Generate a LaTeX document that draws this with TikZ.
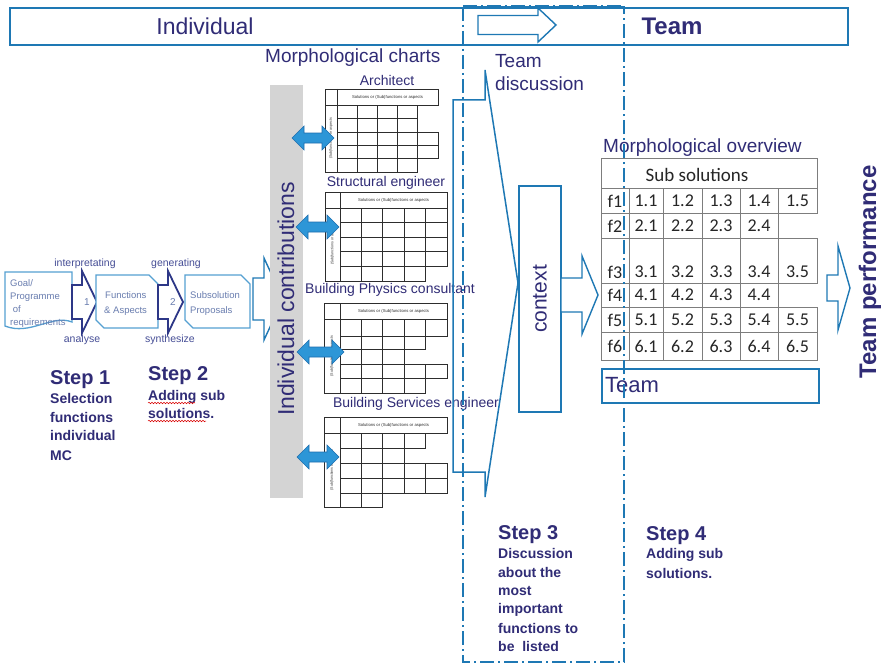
\documentclass[tikz,border=0pt]{standalone}
\usepackage{fontspec}
\setmainfont{Liberation Sans}
\newfontfamily\tablefont{Carlito}
\usetikzlibrary{decorations.pathmorphing}

\definecolor{frameblue}{RGB}{30,120,180}
\definecolor{inkblue}{RGB}{48,44,118}
\definecolor{labelblue}{RGB}{70,78,150}
\definecolor{procblue}{RGB}{85,160,210}
\definecolor{proctext}{RGB}{105,125,175}
\definecolor{arrowink}{RGB}{45,55,135}
\definecolor{dblfill}{RGB}{45,150,215}
\definecolor{dbledge}{RGB}{30,110,175}
\definecolor{barfill}{RGB}{212,212,212}
\definecolor{chartink}{RGB}{45,45,45}
\definecolor{cellline}{RGB}{125,125,125}

\newcommand\fsz[1]{\fontsize{#1}{#1}\selectfont}

% outlined block arrow pointing right:
% #1 style, #2 tail x, #3 head base x, #4 tip x, #5 centre y, #6 half shaft, #7 half head
\newcommand\blockarrow[7]{%
  \draw[#1] ({#2},{#5-#6}) -- ({#3},{#5-#6}) -- ({#3},{#5-#7}) -- ({#4},{#5})
    -- ({#3},{#5+#7}) -- ({#3},{#5+#6}) -- ({#2},{#5+#6}) -- cycle;}

% filled two-way arrow: #1 left x, #2 right x, #3 centre y
\newcommand\twowayarrow[3]{%
  \draw[twoway] ({#1},{#3}) -- ({#1+12},{#3-12}) -- ({#1+12},{#3-5}) -- ({#2-12},{#3-5})
    -- ({#2-12},{#3-12}) -- ({#2},{#3}) -- ({#2-12},{#3+12}) -- ({#2-12},{#3+5})
    -- ({#1+12},{#3+5}) -- ({#1+12},{#3+12}) -- cycle;}

% small morphological chart
% #1 left x, #2 top y, #3 right x of header, #4 label column width,
% #5 cell width, #6 bottom y, #7 rows as bottom/number of cells
\newcommand\morphchart[7]{%
  \draw[chartline] ({#1},{#2}) rectangle ({#3},{#2+16});
  \draw[chartline] ({#1+#4},{#2}) -- ({#1+#4},{#2+16});
  \node[charthead] at ({(#1+#4+#3)/2},{#2+8}) {Solutions or (Sub)functions or aspects};
  \draw[chartline] ({#1},{#2+16}) rectangle ({#1+#4},{#6});
  \node[chartside] at ({#1+#4/2},{(#2+16+#6)/2}) {(Sub)functions or aspects};
  \foreach \yb/\nc [remember=\yb as \yt (initially #2+16)] in {#7}{%
    \foreach \ci in {1,...,\nc}{%
      \draw[chartline] ({#1+#4+(\ci-1)*#5},{\yt}) rectangle ({#1+#4+\ci*#5},{\yb});
    }%
  }%
}

\begin{document}
\begin{tikzpicture}[x=1pt,y=-1pt,
  frame/.style={draw=frameblue,line width=1.6pt},
  dashdot/.style={draw=frameblue,line width=1.6pt,dash pattern=on 14pt off 4pt on 2pt off 4pt},
  ink/.style={text=inkblue,inner sep=0pt},
  proc/.style={draw=procblue,line width=1.3pt,fill=white},
  proctxt/.style={text=proctext,inner sep=0pt,font=\fsz{9.5},anchor=base west},
  flowlabel/.style={text=labelblue,inner sep=0pt,font=\fsz{10.5}},
  steparrow/.style={draw=arrowink,line width=1.8pt,fill=white},
  twoway/.style={fill=dblfill,draw=dbledge,line width=0.6pt},
  chartline/.style={draw=chartink,line width=0.8pt},
  charthead/.style={inner sep=0pt,font=\fsz{4.2},text=chartink},
  chartside/.style={inner sep=0pt,font=\fsz{3.6},text=chartink,rotate=90},
  charttitle/.style={ink,font=\fsz{14}},
  cellline/.style={draw=cellline,line width=0.9pt},
  cellnum/.style={inner sep=0pt,font=\tablefont\fsz{18},text=black!85},
  stephead/.style={ink,font=\fsz{20}\bfseries,anchor=base west},
  steptxt/.style={ink,font=\fsz{14}\bfseries,anchor=base west},
  spell/.style={draw=red!85!black,line width=0.5pt,decorate,
    decoration={snake,amplitude=0.8pt,segment length=3pt}}]

\useasboundingbox (0,0) rectangle (888,666);
\fill[white] (0,0) rectangle (888,666);

% ---------- header band ----------
\draw[frame] (10,8) rectangle (848,45);
\node[ink,font=\fsz{23}] (individual) at (205,26) {Individual};
\node[ink,font=\fsz{24}\bfseries] (teamtop) at (672,26) {Team};
\blockarrow{frame,line width=1.4pt,fill=white}{478}{538}{556}{25}{9.5}{17}

% ---------- individual process ----------
\draw[proc] (5,272) -- (72,272) -- (72,322) .. controls (52,314) and (30,336) .. (5,326) -- cycle;
\node[proctxt] (goal1) at (10,286) {Goal/};
\node[proctxt] (goal2) at (10,299) {Programme};
\node[proctxt] (goal3) at (10,312) {\ of};
\node[proctxt] (goal4) at (10,325) {requirements};

\blockarrow{steparrow}{72}{82}{97}{302}{17}{31}
\node[ink,font=\fsz{10},text=proctext] (one) at (87,302) {1};

\draw[proc] (96,275) -- (149,275) -- (158,284) -- (158,328) -- (104,328) -- (96,320) -- cycle;
\node[proctxt] (func1) at (105,298) {Functions};
\node[proctxt] (func2) at (104,313) {\& Aspects};

\blockarrow{steparrow}{158}{168}{183}{302}{17}{31}
\node[ink,font=\fsz{10},text=proctext] (two) at (173,302) {2};

\draw[proc] (185,275) -- (241,275) -- (250,284) -- (250,328) -- (193,328) -- (185,320) -- cycle;
\node[proctxt] (sub1) at (190,298) {Subsolution};
\node[proctxt] (sub2) at (190,313) {Proposals};

\blockarrow{frame,line width=1.4pt,fill=white}{253}{264}{283}{299}{21}{41}

\node[flowlabel] (interp) at (85,264) {interpretating};
\node[flowlabel] (gener) at (176,264) {generating};
\node[flowlabel] (analyse) at (82,340) {analyse};
\node[flowlabel] (synth) at (170,340) {synthesize};

% steps 1 and 2
\node[stephead] (s1) at (50,384) {Step 1};
\foreach \t/\yy in {Selection/403,functions/422,individual/440,MC/460}
  \node[steptxt] at (50,\yy) {\t};
\node[stephead] (s2) at (148,380) {Step 2};
\node[steptxt] (s2a) at (148,400) {Adding sub};
\node[steptxt] (s2b) at (148,418) {solutions.};
\draw[spell] (148,403) -- (195,403);
\draw[spell] (148,421) -- (206,421);

% ---------- individual contributions ----------
\fill[barfill] (270,85) rectangle (303,498);
\node[ink,font=\fsz{23},rotate=90] (contrib) at (286,299) {Individual contributions};

\node[ink,font=\fsz{19},anchor=base west] (mcharts) at (265,63) {Morphological charts};

\node[charttitle] (arch) at (387,80) {Architect};
\morphchart{325}{89}{438}{12}{20.2}{172}{118/4,132/4,145/5,158/5,172/4}
\node[charttitle] (struct) at (386,183) {Structural engineer};
\morphchart{325}{192}{447}{15}{21.4}{281}{222/5,237/5,251/5,266/5,281/4}
\node[charttitle] (phys) at (390,290) {Building Physics consultant};
\morphchart{324}{303}{447}{16}{21.4}{393}{336/5,349/4,364/3,378/5,393/4}
\node[charttitle] (serv) at (416,404) {Building Services engineer};
\morphchart{324}{417}{447}{16}{21.4}{507}{448/4,463/3,478/5,493/5,507/2}

\twowayarrow{292}{334}{138}
\twowayarrow{296}{339}{227}
\twowayarrow{297}{344}{352}
\twowayarrow{297}{339}{457}

% ---------- team discussion ----------
\draw[frame,line width=1.5pt] (453,100) -- (485,100) -- (485,70) -- (518,283)
  -- (485,497) -- (485,472) -- (453,472) -- cycle;
\node[ink,font=\fsz{19},anchor=base west] (tdisc1) at (495,68) {Team};
\node[ink,font=\fsz{19},anchor=base west] (tdisc2) at (495,91) {discussion};

\node[draw=frameblue,line width=1.5pt,rotate=90,minimum width=226,minimum height=42,
  text=inkblue,font=\fsz{21}] (context) at (540,299) {context};

\blockarrow{frame,line width=1.4pt,fill=white}{561}{582}{598}{295}{17}{39}

% ---------- morphological overview ----------
\node[ink,font=\fsz{19},anchor=base west] (moverview) at (603,152) {Morphological overview};
\draw[cellline] (601,158) rectangle (817,188);
\node[cellnum,font=\tablefont\fsz{19}] (subsol) at (697,175) {Sub solutions};
\foreach \r/\ya/\yb/\nc/\ty in {1/188/213/5/201,2/213/238/4/226,3/238/283/5/272,
                                 4/283/307/4/295,5/307/332/5/320,6/332/360/5/346}{
  \draw[cellline] (601,\ya) rectangle (629,\yb);
  \node[cellnum] at (615,\ty) {f\r};
  \foreach \j/\xl/\xr in {1/629/663,2/663/702,3/702/740,4/740/778,5/778/817}{
    \ifnum\j>\nc\relax\else
      \draw[cellline] (\xl,\ya) rectangle (\xr,\yb);
      \node[cellnum] at ({(\xl+\xr)/2},\ty) {\r.\j};
    \fi
  }
}
\node[draw=frameblue,line width=1.5pt,minimum width=217,minimum height=34,
  anchor=north west,inner sep=0pt] (teambox) at (601,368) {};
\node[ink,font=\fsz{22},anchor=west] (teamlbl) at (605,385) {Team};

\blockarrow{frame,line width=1.4pt,fill=white}{827}{838}{850}{288}{13}{42}
\node[ink,font=\fsz{24}\bfseries,rotate=90] (tperf) at (870,272) {Team performance};

% ---------- steps 3 and 4 ----------
\node[stephead] (s3) at (498,539) {Step 3};
\foreach \t/\yy in {Discussion/558,about the/577,most/595,important/613,functions to/633,be\ \ listed/651}
  \node[steptxt] at (498,\yy) {\t};
\node[stephead] (s4) at (646,540) {Step 4};
\node[steptxt] (s4a) at (646,558) {Adding sub};
\node[steptxt] (s4b) at (646,578) {solutions.};

% ---------- team phase boundary ----------
\draw[dashdot] (463,7) rectangle (624,662);
\draw[dashdot,line width=3pt] (463,7) -- (624,7);
\end{tikzpicture}
\end{document}
